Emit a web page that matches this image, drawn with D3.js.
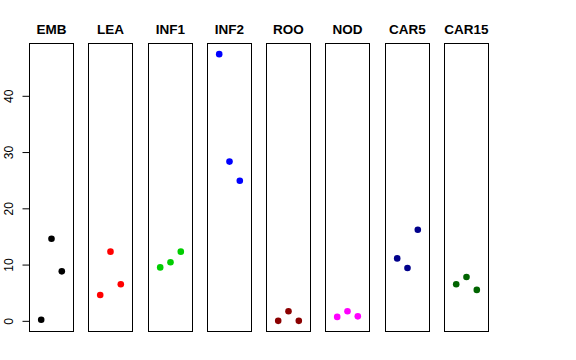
<!DOCTYPE html>
<html><head><meta charset="utf-8">
<script src="https://cdn.jsdelivr.net/npm/d3@7"></script>
<style>body{margin:0;background:#fff}svg{display:block}</style>
</head><body>
<svg id="c" width="576" height="360"></svg>
<script>
const categories = ["EMB","LEA","INF1","INF2","ROO","NOD","CAR5","CAR15"];
const colors = ["#000000","#FF0000","#00CD00","#0000FF","#8B0000","#FF00FF","#00008B","#006400"];
const values = [
  [0.2, 14.6, 8.8],
  [4.6, 12.3, 6.5],
  [9.5, 10.4, 12.3],
  [47.4, 28.3, 24.9],
  [0.0, 1.7, 0.0],
  [0.7, 1.7, 0.8],
  [11.1, 9.4, 16.2],
  [6.5, 7.8, 5.5]
];
const yTicks = [0, 10, 20, 30, 40];

const svg = d3.select("#c");
const plotTop = 43.5, plotBottom = 331.5;
const allVals = values.flat();
const mn = d3.min(allVals), mx = d3.max(allVals), ext = (mx - mn) * 0.04;
const y = d3.scaleLinear().domain([mn - ext, mx + ext]).range([plotBottom, plotTop]);

const panelX = d3.scaleBand().domain(categories).range([29, 488]).paddingInner(0.255);
const pw = Math.round(panelX.bandwidth());

categories.forEach((cat, i) => {
  const x0 = Math.round(panelX(cat)) + 0.5;
  const g = svg.append("g");
  g.append("rect").attr("x", x0).attr("y", plotTop).attr("width", pw).attr("height", plotBottom - plotTop)
    .attr("fill", "none").attr("stroke", "#000").attr("stroke-width", 1);
  const cx = x0 + pw / 2;
  const xs = d3.scaleLinear().domain([1, 3]).range([cx - 10.3, cx + 10.3]);
  g.selectAll("circle").data(values[i]).join("circle")
    .attr("cx", (d, j) => xs(j + 1)).attr("cy", d => y(d)).attr("r", 3.3)
    .attr("fill", colors[i]);
  g.append("text").attr("x", cx).attr("y", 34).attr("text-anchor", "middle")
    .attr("font-family", "Liberation Sans, Arial, sans-serif").attr("font-weight", "bold")
    .attr("font-size", 13.5).text(cat);
});

const axisG = svg.append("g").attr("transform", `translate(${Math.round(panelX(categories[0])) + 0.5},0)`);
const axis = d3.axisLeft(y).tickValues(yTicks).tickSize(7).tickFormat(d3.format("d"));
axisG.call(axis);
axisG.select(".domain").attr("stroke", "#000").attr("d", `M0,${y(0)}V${y(40)}`);
axisG.selectAll(".tick line").attr("stroke", "#000");
axisG.selectAll(".tick text")
  .attr("font-family", "Liberation Sans, Arial, sans-serif").attr("font-size", 12).attr("fill", "#000")
  .attr("transform", "rotate(-90)")
  .attr("x", 0).attr("y", -16.5).attr("dy", "0").attr("text-anchor", "middle");
</script>
</body></html>
